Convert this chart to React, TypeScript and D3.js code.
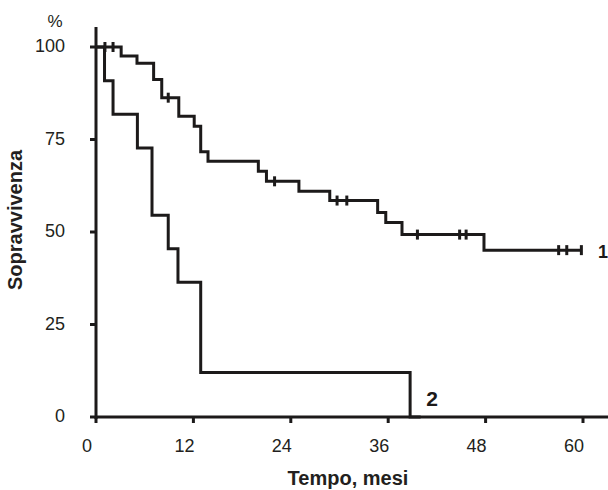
import React from "react";
import * as d3 from "d3";

const xTicks = [0, 12, 24, 36, 48, 60];
const yTicks = [0, 25, 50, 75, 100];

const curve1Times = [0, 3.1, 5.05, 7.1, 8.1, 10.2, 12.1, 12.9, 13.8, 20, 21, 25, 28.8, 34.7, 35.7, 37.7, 47.8];
const curve1Surv = [100, 97.6, 95.6, 91.2, 86.3, 81.3, 78.6, 71.7, 69.1, 66.4, 63.7, 61, 58.5, 55.3, 52.6, 49.3, 45.1];
const curve1End = 59.8;
const curve1Censor = [1.1, 2.1, 8.9, 22, 29.7, 30.9, 39.6, 44.8, 45.6, 57, 58, 59.8];

const curve2Times = [0, 1.05, 2.1, 5.1, 6.9, 8.9, 10.1, 12.9, 38.7];
const curve2Surv = [100, 90.9, 81.8, 72.7, 54.5, 45.5, 36.4, 12, 0];
const curve2End = 40;

const INK = "#1c1a1a";
const FONT = "'Liberation Sans', Arial, Helvetica, sans-serif";

export default function App() {
  const W = 608;
  const H = 490;
  const x = d3.scaleLinear().domain([0, 60]).range([96, 583]);
  const y = d3.scaleLinear().domain([0, 100]).range([417, 47]);

  const stepVal = (times: number[], surv: number[], t: number) => {
    let v = surv[0];
    for (let i = 0; i < times.length; i++) if (times[i] <= t) v = surv[i];
    return v;
  };

  const line = d3
    .line<[number, number]>()
    .x((d) => x(d[0]))
    .y((d) => y(d[1]))
    .curve(d3.curveStepAfter);

  const pts1: [number, number][] = curve1Times.map((t, i) => [t, curve1Surv[i]]);
  pts1.push([curve1End, curve1Surv[curve1Surv.length - 1]]);
  const pts2: [number, number][] = curve2Times.map((t, i) => [t, curve2Surv[i]]);
  pts2.push([curve2End, 0]);

  return (
    <svg width={W} height={H} style={{ position: "absolute", left: 0, top: 0, background: "#fff" }}>
      <rect x={0} y={0} width={W} height={H} fill="#fff" />
      {/* curves */}
      <path d={line(pts2) || ""} fill="none" stroke={INK} strokeWidth={3} strokeLinejoin="miter" />
      <path d={line(pts1) || ""} fill="none" stroke={INK} strokeWidth={3} strokeLinejoin="miter" />
      {curve1Censor.map((t, i) => {
        const v = stepVal(curve1Times, curve1Surv, t);
        return (
          <line key={i} x1={x(t)} x2={x(t)} y1={y(v) - 5} y2={y(v) + 5} stroke={INK} strokeWidth={3} />
        );
      })}
      {/* axes */}
      <line x1={96} x2={96} y1={27} y2={419} stroke={INK} strokeWidth={3} />
      <line x1={95} x2={608} y1={417} y2={417} stroke={INK} strokeWidth={3} />
      {yTicks.map((t) => (
        <g key={"y" + t}>
          <line x1={90} x2={96} y1={y(t)} y2={y(t)} stroke={INK} strokeWidth={3} />
          <text x={65} y={y(t) - 1} textAnchor="end" dominantBaseline="central" fontFamily={FONT} fontSize={18} fill="#231f20">
            {t}
          </text>
        </g>
      ))}
      {xTicks.map((t) => (
        <g key={"x" + t}>
          <line x1={x(t)} x2={x(t)} y1={417} y2={423} stroke={INK} strokeWidth={3} />
          <text x={x(t) - 9} y={452} textAnchor="middle" fontFamily={FONT} fontSize={18} fill="#231f20">
            {t}
          </text>
        </g>
      ))}
      <text x={55} y={27} textAnchor="middle" fontFamily={FONT} fontSize={17} fill="#231f20">
        %
      </text>
      <text x={348} y={485} textAnchor="middle" fontFamily={FONT} fontSize={20} fontWeight="bold" fill="#231f20">
        Tempo, mesi
      </text>
      <text
        transform="translate(22,220) rotate(-90)"
        textAnchor="middle"
        fontFamily={FONT}
        fontSize={20}
        fontWeight="bold"
        fill="#231f20"
      >
        Sopravvivenza
      </text>
      <text x={598} y={258} fontFamily={FONT} fontSize={18} fontWeight="bold" fill={INK}>
        1
      </text>
      <text x={432} y={406} textAnchor="middle" fontFamily={FONT} fontSize={21} fontWeight="bold" fill={INK}>
        2
      </text>
    </svg>
  );
}
